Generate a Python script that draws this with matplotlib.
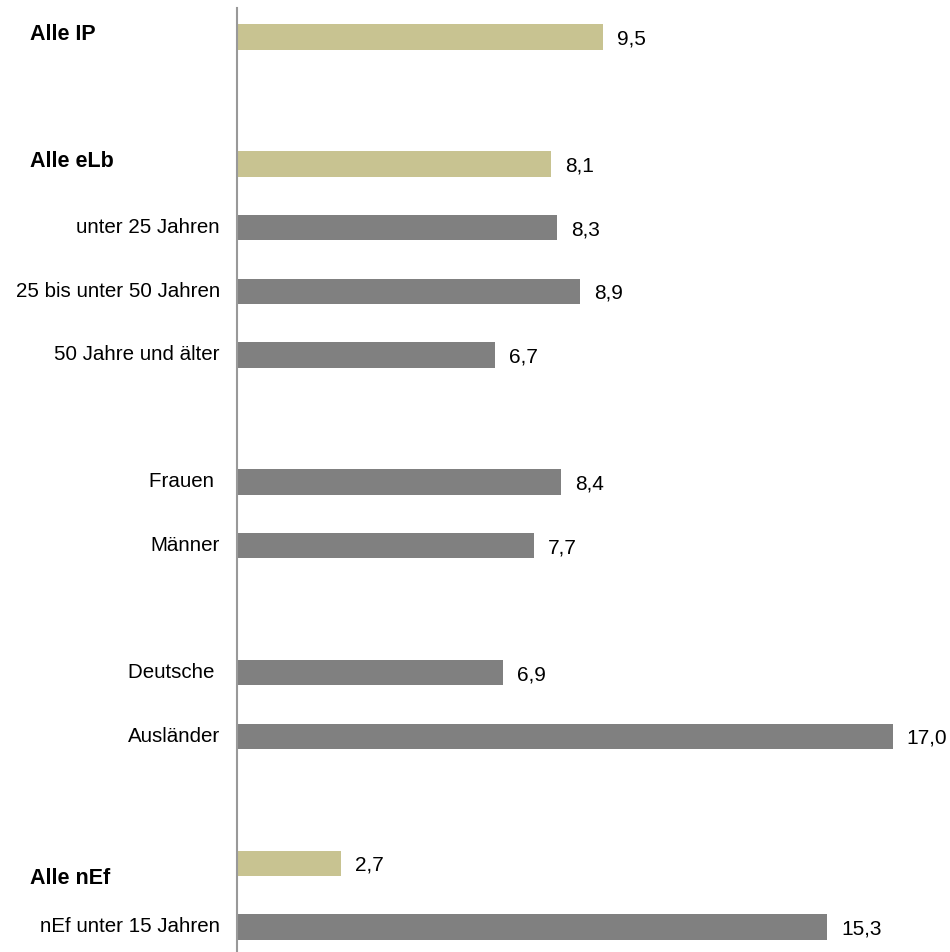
import matplotlib
matplotlib.use("Agg")
import matplotlib.pyplot as plt
from matplotlib.transforms import blended_transform_factory, offset_copy

categories = ["Alle IP", "Alle eLb", "unter 25 Jahren", "25 bis unter 50 Jahren",
              "50 Jahre und älter", "Frauen ", "Männer", "Deutsche ", "Ausländer",
              "Alle nEf", "nEf unter 15 Jahren"]
values = [9.5, 8.14, 8.3, 8.9, 6.7, 8.4, 7.7, 6.9, 17.0, 2.7, 15.3]
value_labels = ["9,5", "8,1", "8,3", "8,9", "6,7", "8,4", "7,7", "6,9", "17,0", "2,7", "15,3"]
slots = [0, 2, 3, 4, 5, 7, 8, 10, 11, 13, 14]
is_total = [True, True, False, False, False, False, False, False, False, True, False]

plt.rcParams['font.family'] = ['Liberation Sans', 'DejaVu Sans']

W, H = 950, 952
fig = plt.figure(figsize=(W / 100, H / 100), dpi=100)
left_px, top_px, bottom_px = 237, 8, 952
ax = fig.add_axes([left_px / W, 0, 1 - left_px / W, (bottom_px - top_px) / H])

px_per_unit = (892.7 - 237) / 17.0
ax.set_xlim(0, (W - left_px) / px_per_unit)
slot_px = 63.57
ax.set_ylim((bottom_px - 37) / slot_px, (top_px - 37) / slot_px)

beige = "#C8C391"
gray = "#808080"
colors = [beige if t else gray for t in is_total]
ax.barh(slots, values, height=0.4, color=colors, edgecolor="none")

for s, v, lab in zip(slots, values, value_labels):
    ax.annotate(lab, (v, s), xytext=(14, -2), textcoords="offset pixels",
                va="center", ha="left", fontsize=15, color="#000000")

trans = blended_transform_factory(fig.transFigure, ax.transData)
for s, c, t in zip(slots, categories, is_total):
    if t:
        dy = -15 if c == "Alle nEf" else 3
        tr = offset_copy(trans, fig=fig, x=0, y=dy, units='dots')
        ax.text(30 / W, s, c, transform=tr, ha="left", va="center",
                fontsize=15.5, fontweight="bold")
    else:
        ax.text(220 / W, s, c, transform=trans, ha="right", va="center", fontsize=14.8)

for sp in ["top", "right", "bottom"]:
    ax.spines[sp].set_visible(False)
ax.spines["left"].set_color("#999999")
ax.spines["left"].set_linewidth(1.5)
ax.set_xticks([])
ax.set_yticks([])
ax.patch.set_alpha(0)

fig.savefig("out.png", dpi=100)
